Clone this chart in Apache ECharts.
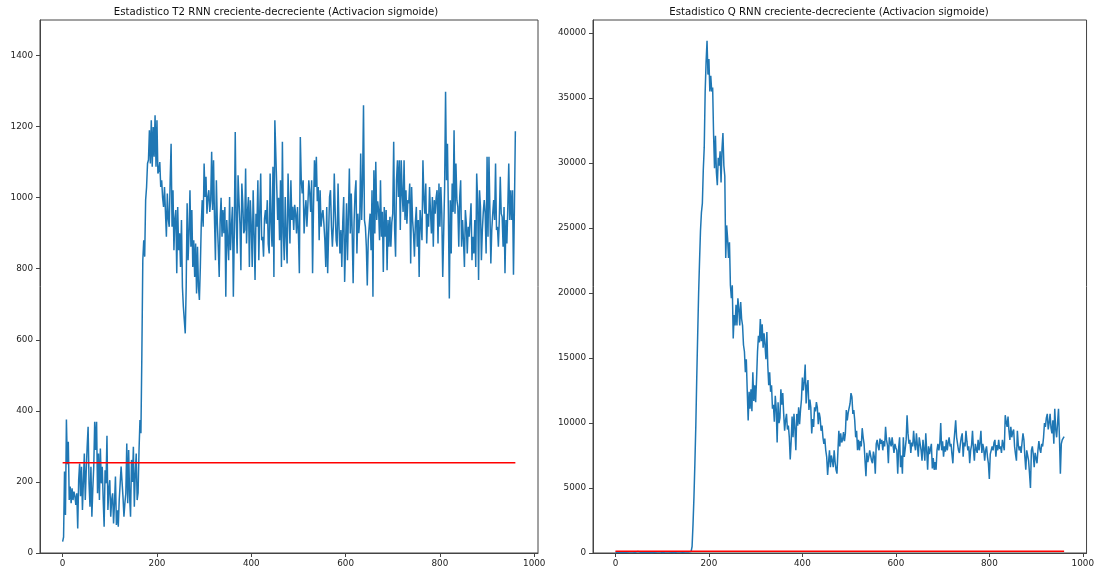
<!DOCTYPE html>
<html>
<head>
<meta charset="utf-8">
<title>Estadisticos T2 y Q</title>
<script src="https://cdn.jsdelivr.net/npm/echarts@6/dist/echarts.min.js"></script>
<style>
  html, body { margin: 0; padding: 0; background: #fff; }
  #chart { width: 1097px; height: 574px; }
</style>
</head>
<body>
<div id="chart"></div>
<script>
// Sample spacing (observation index step) of the stored statistic values
const SAMPLE_STEP = 2;

// Hotelling T2 statistic, one value every SAMPLE_STEP observations (0 .. 960)
const t2Values = [
  32, 45, 229, 107, 376, 250, 313, 149, 187, 140, 182, 149, 173, 160, 135, 168, 69, 205, 252, 160,
  243, 121, 200, 280, 149, 230, 299, 355, 196, 130, 243, 102, 180, 243, 369, 290, 369, 168, 280, 149,
  294, 196, 243, 150, 74, 233, 196, 330, 121, 180, 205, 102, 150, 168, 83, 140, 215, 79, 120, 74,
  149, 196, 243, 200, 158, 102, 140, 168, 308, 140, 290, 160, 102, 262, 200, 299, 130, 220, 280, 149,
  170, 290, 374, 337, 560, 824, 880, 834, 993, 1030, 1096, 1106, 1190, 1096, 1218, 1087, 1199, 1115, 1232, 1087,
  1218, 1068, 1077, 1100, 1030, 1049, 1000, 974, 1030, 960, 890, 1012, 940, 918, 1049, 1152, 918, 1021, 852, 940,
  965, 787, 974, 852, 900, 805, 937, 749, 693, 655, 618, 749, 984, 824, 899, 1021, 862, 965, 805, 880,
  777, 871, 730, 862, 750, 712, 805, 927, 993, 918, 1096, 1002, 1059, 955, 1000, 1021, 960, 993, 1129, 965,
  1105, 940, 824, 1049, 930, 862, 777, 937, 1000, 890, 965, 900, 974, 721, 937, 880, 824, 1002, 852, 920,
  974, 721, 900, 1185, 937, 843, 1063, 990, 927, 796, 1040, 984, 900, 909, 1082, 871, 960, 1002, 805, 993,
  920, 805, 1021, 900, 768, 955, 918, 1049, 824, 960, 1068, 880, 890, 834, 940, 965, 927, 993, 870, 843,
  1068, 930, 862, 1087, 777, 1218, 1213, 1218, 937, 1000, 880, 1049, 805, 1157, 900, 824, 1002, 890, 815, 1068,
  960, 871, 1049, 937, 974, 909, 980, 955, 899, 974, 900, 787, 1171, 1050, 1012, 1049, 899, 960, 993, 918,
  980, 1049, 1012, 960, 1049, 787, 974, 1105, 1030, 1115, 990, 1030, 880, 1021, 918, 950, 965, 927, 880, 805,
  974, 787, 900, 1002, 1021, 920, 862, 918, 1068, 960, 880, 862, 1040, 920, 843, 909, 805, 930, 1002, 763,
  870, 984, 824, 950, 1082, 899, 1012, 900, 759, 930, 1012, 1049, 843, 955, 900, 937, 1124, 937, 1040, 1260,
  937, 918, 862, 753, 880, 920, 955, 852, 1021, 721, 1077, 899, 1101, 937, 990, 965, 880, 1049, 890, 960,
  791, 974, 890, 965, 796, 937, 862, 946, 862, 930, 955, 1157, 909, 834, 1049, 1105, 1002, 1105, 909, 1105,
  1012, 960, 1105, 937, 1021, 927, 993, 984, 1040, 815, 1030, 937, 899, 834, 930, 974, 862, 937, 777, 965,
  927, 880, 1105, 1000, 955, 1040, 871, 955, 918, 1030, 960, 899, 1002, 862, 993, 955, 1000, 1021, 871, 1040,
  918, 1030, 955, 777, 900, 1030, 1298, 1049, 1152, 955, 716, 993, 843, 1040, 960, 1190, 955, 1096, 993, 974,
  862, 1002, 1049, 862, 937, 880, 805, 965, 927, 843, 918, 890, 890, 984, 824, 890, 843, 937, 805, 1068,
  993, 768, 1021, 974, 824, 909, 960, 993, 955, 843, 1115, 890, 1115, 965, 815, 909, 955, 993, 937, 1096,
  909, 918, 862, 940, 1059, 955, 946, 862, 974, 787, 937, 871, 974, 1096, 937, 1021, 937, 1021, 783, 974,
  1187
];

// Q (SPE) statistic, same sampling
const qValues = [
  40, 60, 50, 80, 45, 70, 55, 90, 60, 50, 75, 40, 65, 85, 50, 70, 60, 45, 80, 55,
  70, 50, 90, 60, 120, 150, 80, 60, 50, 75, 65, 40, 85, 55, 70, 60, 50, 90, 65, 45,
  60, 75, 50, 85, 55, 70, 40, 65, 80, 50, 60, 45, 75, 55, 90, 60, 50, 70, 45, 65,
  55, 80, 60, 45, 70, 50, 85, 60, 55, 75, 45, 65, 50, 80, 60, 70, 55, 45, 75, 60,
  80, 120, 500, 2200, 4300, 6900, 9800, 13500, 16800, 20000, 22500, 24800, 26200, 26900, 29500, 31200, 35500, 37800, 39400, 36800,
  38000, 35500, 36700, 35500, 35800, 32200, 29600, 32100, 29300, 28300, 30400, 29800, 30900, 28500, 31100, 32300, 29800, 29000, 22700, 25200,
  24200, 22700, 23900, 20600, 19600, 20600, 16500, 18300, 17500, 19100, 17500, 19600, 18800, 17500, 19300, 18000, 17500, 16000, 15500, 13900,
  14900, 12500, 10200, 12400, 11100, 12600, 10900, 13900, 11700, 12900, 11600, 13400, 15500, 16700, 16200, 18000, 16300, 17600, 15800, 16900,
  16000, 14900, 17000, 14400, 12900, 13900, 12400, 12900, 11100, 11400, 10100, 12100, 11100, 8500, 11600, 10000, 10400, 12600, 11400, 12300,
  10700, 9400, 10200, 10700, 9500, 9800, 8900, 7200, 8600, 10500, 8900, 10700, 9600, 7900, 10700, 9800, 11200, 9900, 11000, 11800,
  13500, 12500, 13200, 14500, 11500, 12800, 13300, 11000, 11800, 11200, 9200, 10300, 9700, 11200, 10900, 11600, 11200, 9900, 10800, 10400,
  9400, 9800, 8900, 8400, 8800, 7900, 7400, 6000, 7000, 7900, 6600, 7500, 7100, 6600, 7900, 7000, 6400, 6100, 7800, 9400,
  8200, 9200, 8500, 8700, 9300, 8600, 9200, 11000, 10200, 10800, 10700, 11500, 12300, 12000, 10700, 11000, 10200, 8900, 9400, 7900,
  8700, 7900, 8600, 8200, 9600, 8900, 8400, 7100, 5900, 7700, 7000, 7400, 7900, 7500, 7100, 6900, 7800, 7400, 6100, 8400,
  8700, 8200, 7900, 8800, 8400, 8700, 7900, 8600, 8200, 9700, 8700, 8300, 6900, 8900, 8500, 8200, 8900, 8300, 7700, 8400,
  8100, 7900, 6100, 8100, 8900, 6600, 7500, 6100, 8900, 7400, 8000, 8700, 10600, 9200, 8400, 8700, 7700, 8500, 8200, 9400,
  8400, 7900, 9200, 8300, 7400, 8900, 8400, 7900, 7100, 8700, 8000, 7100, 9200, 7900, 6400, 8200, 7600, 8000, 8400, 6500,
  7300, 6400, 7000, 6400, 7900, 8400, 7900, 8400, 10000, 7900, 8600, 7400, 8200, 7800, 8700, 7900, 8500, 8900, 8200, 8400,
  7600, 6900, 8400, 9300, 10200, 8900, 8400, 7900, 7700, 8400, 8900, 9200, 7400, 8500, 8200, 9400, 8600, 7900, 8200, 6900,
  7900, 8300, 9400, 8000, 7100, 8400, 8000, 7700, 8700, 7900, 8500, 9400, 7700, 8400, 8000, 7100, 7900, 8200, 7400, 6900,
  5700, 7600, 7900, 8200, 7900, 8500, 8700, 7400, 8300, 7900, 8700, 8000, 8200, 7700, 8700, 8300, 7900, 10600, 10100, 9700,
  10500, 9400, 8700, 9700, 8900, 9300, 9500, 8200, 7600, 7100, 9400, 8300, 7900, 8200, 7700, 8500, 9200, 8700, 7400, 6400,
  7900, 7500, 7100, 6100, 5000, 7900, 8200, 7600, 6600, 7700, 7300, 6900, 7900, 8600, 8000, 7700, 8400, 8200, 8900, 10000,
  9700, 10400, 10700, 9500, 10000, 10700, 9600, 9200, 10200, 8400, 11100, 9500, 8900, 10000, 11100, 8900, 6100, 8400, 8700, 8800,
  8950
];

// Control limits (horizontal red lines)
const t2Limit = 254;
const qLimit = 140;

// Axis ticks
const xTicks = [0, 200, 400, 600, 800, 1000];
const t2Ticks = [0, 200, 400, 600, 800, 1000, 1200, 1400];
const qTicks = [0, 5000, 10000, 15000, 20000, 25000, 30000, 35000, 40000];

const titles = [
  'Estadistico T2 RNN creciente-decreciente (Activacion sigmoide)',
  'Estadistico Q RNN creciente-decreciente (Activacion sigmoide)'
];

const toPoints = vals => vals.map((v, i) => [i * SAMPLE_STEP, v]);
const limitLine = (vals, lim) => [[0, lim], [(vals.length - 1) * SAMPLE_STEP, lim]];

const FONT = '"DejaVu Sans", sans-serif';
const frameColor = '#444';
const plainNumber = v => String(v);

function xAxisCfg(gridIndex) {
  return {
    type: 'value', gridIndex, min: -48, max: 1008,
    splitLine: { show: false },
    axisLine: { show: true, onZero: false, lineStyle: { color: frameColor, width: 1 } },
    axisTick: { show: true, inside: false, length: 4, customValues: xTicks, lineStyle: { color: frameColor } },
    axisLabel: { customValues: xTicks, formatter: plainNumber, margin: 6, fontSize: 8.8, fontFamily: FONT, color: '#222' }
  };
}
function yAxisCfg(gridIndex, max, ticks) {
  return {
    type: 'value', gridIndex, min: 0, max,
    splitLine: { show: false },
    axisLine: { show: true, onZero: false, lineStyle: { color: frameColor, width: 1 } },
    axisTick: { show: true, inside: false, length: 4, customValues: ticks, lineStyle: { color: frameColor } },
    axisLabel: { customValues: ticks, formatter: plainNumber, margin: 7, fontSize: 8.8, fontFamily: FONT, color: '#222' }
  };
}

const chart = echarts.init(document.getElementById('chart'), null, { renderer: 'canvas' });
chart.setOption({
  animation: false,
  backgroundColor: '#fff',
  graphic: [
    { type: 'text', x: 276, y: 12, style: { text: titles[0], textAlign: 'center', textVerticalAlign: 'middle', font: '10.2px ' + FONT, fill: '#111' } },
    { type: 'text', x: 829, y: 12, style: { text: titles[1], textAlign: 'center', textVerticalAlign: 'middle', font: '10.2px ' + FONT, fill: '#111' } }
  ],
  grid: [
    { left: 40, top: 20, width: 498, height: 533, show: true, borderColor: frameColor, borderWidth: 1, backgroundColor: 'transparent' },
    { left: 593, top: 20, width: 495, height: 533, show: true, borderColor: frameColor, borderWidth: 1, backgroundColor: 'transparent' }
  ],
  xAxis: [xAxisCfg(0), xAxisCfg(1)],
  yAxis: [yAxisCfg(0, 1500, t2Ticks), yAxisCfg(1, 41000, qTicks)],
  series: [
    { type: 'line', xAxisIndex: 0, yAxisIndex: 0, data: toPoints(t2Values), showSymbol: false, symbol: 'none',
      lineStyle: { color: '#1f77b4', width: 1.5 }, z: 2 },
    { type: 'line', xAxisIndex: 0, yAxisIndex: 0, data: limitLine(t2Values, t2Limit), showSymbol: false, symbol: 'none',
      lineStyle: { color: '#ff0000', width: 1.6 }, z: 3 },
    { type: 'line', xAxisIndex: 1, yAxisIndex: 1, data: toPoints(qValues), showSymbol: false, symbol: 'none',
      lineStyle: { color: '#1f77b4', width: 1.5 }, z: 2 },
    { type: 'line', xAxisIndex: 1, yAxisIndex: 1, data: limitLine(qValues, qLimit), showSymbol: false, symbol: 'none',
      lineStyle: { color: '#ff0000', width: 1.6 }, z: 3 }
  ]
});
</script>
</body>
</html>
